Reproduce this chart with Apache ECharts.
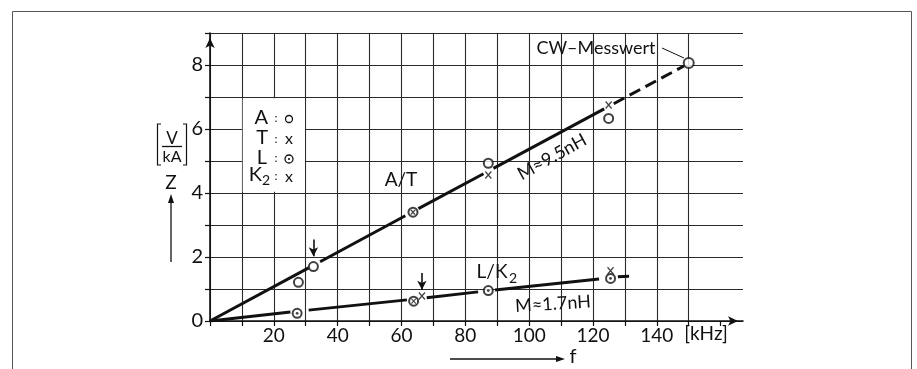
<!DOCTYPE html>
<html>
<head>
<meta charset="utf-8">
<script src="https://cdn.jsdelivr.net/npm/echarts@6/dist/echarts.min.js"></script>
<style>
  html, body { margin: 0; padding: 0; background: #fff; }
  #chart { width: 917px; height: 369px; }
</style>
</head>
<body>
<div id="chart"></div>
<script>
// frequency f in kHz, impedance Z in V/kA
const circlePts = [[27.7, 1.21], [32.4, 1.70], [87.2, 4.93], [124.9, 6.33]];   // A : o
const crossPts = [[87.2, 4.56], [124.9, 6.75], [66.4, 0.78], [125.5, 1.57]];    // T, K2 : x
const dotCirclePts = [[27.3, 0.24], [87.2, 0.95], [125.5, 1.33]];                // L : ⊙
const crossCirclePts = [[63.6, 3.40], [63.8, 0.62]];                             // o and x together
const cwPoint = [[150, 8.06]];                                                   // CW-Messwert

// fitted lines, drawn in pieces with gaps round the markers
const lineAT = [[0, 0, 30.9, 1.66], [34.5, 1.85, 61.2, 3.29], [65.3, 3.51, 85.7, 4.60], [88.8, 4.77, 123.5, 6.63]];
const dashAT = [[126.5, 6.79, 148.5, 7.97]];
const lineLK = [[0, 0, 25.2, 0.28], [30.9, 0.34, 61.7, 0.66], [67.9, 0.73, 84.0, 0.91], [89.3, 0.97, 121.9, 1.31]];
const dashLK = [[127.8, 1.38, 131.3, 1.40]];

// little arrows pointing at two measurements: f, Z from, Z to
const pointerArrows = [[32.4, 2.55, 2.02], [66.4, 1.50, 0.98]];

const xTickValues = [0, 10, 20, 30, 40, 50, 60, 70, 80, 90, 100, 110, 120, 130, 140, 150, 160];
const xLabelValues = [20, 40, 60, 80, 100, 120, 140];
const yLabelValues = [0, 2, 4, 6, 8];

const FONT = "Lato";
const INK = "#111";

const chart = echarts.init(document.getElementById("chart"));

function segmentSeries(segs, dashed) {
  return segs.map((s) => ({
    type: "line",
    data: [[s[0], s[1]], [s[2], s[3]]],
    symbol: "none",
    silent: true,
    z: 3,
    lineStyle: { color: INK, width: 3, type: dashed ? [12, 6] : "solid", cap: "butt" },
  }));
}

const crossPath = "path://M0,0L10,12M10,0L0,12";

const series = [
  // white box behind the symbol key
  {
    type: "scatter",
    data: [],
    z: 2,
    markArea: {
      silent: true,
      itemStyle: { color: "#fff", opacity: 1 },
      data: [[{ coord: [10.25, 4.04] }, { coord: [29.75, 6.96] }]],
    },
  },
  ...segmentSeries(lineAT, false),
  ...segmentSeries(dashAT, true),
  ...segmentSeries(lineLK, false),
  ...segmentSeries(dashLK, true),
  {
    type: "line",
    data: [],
    markLine: {
      silent: true,
      symbol: ["none", "arrow"],
      symbolSize: [7, 9],
      label: { show: false },
      lineStyle: { color: INK, width: 1.6, type: "solid" },
      data: pointerArrows.map((a) => [{ coord: [a[0], a[1]] }, { coord: [a[0], a[2]] }]),
    },
  },
  {
    type: "scatter",
    data: circlePts.concat(dotCirclePts, crossCirclePts),
    symbol: "emptyCircle",
    symbolSize: 9,
    z: 4,
    itemStyle: { color: INK, borderColor: INK, borderWidth: 1.6 },
  },
  {
    type: "scatter",
    data: dotCirclePts,
    symbol: "circle",
    symbolSize: 2.8,
    z: 5,
    itemStyle: { color: INK },
  },
  {
    type: "scatter",
    data: crossCirclePts,
    symbol: crossPath,
    symbolSize: [4.5, 5],
    z: 5,
    itemStyle: { color: "none", borderColor: INK, borderWidth: 1.2 },
  },
  {
    type: "scatter",
    data: crossPts,
    symbol: crossPath,
    symbolSize: [6, 7],
    z: 5,
    itemStyle: { color: "none", borderColor: INK, borderWidth: 1.4 },
  },
  {
    type: "scatter",
    data: cwPoint,
    symbol: "emptyCircle",
    symbolSize: 10,
    z: 5,
    itemStyle: { color: INK, borderColor: INK, borderWidth: 2.2 },
  },
];

function txt(x, y, text, size, extra) {
  return Object.assign({
    type: "text",
    x: x,
    y: y,
    style: { text: text, fill: INK, font: size + "px " + FONT, align: "center", verticalAlign: "middle" },
    z: 100,
  }, extra || {});
}

function rtxt(x, y, text, size) {
  return {
    type: "text",
    x: x,
    y: y,
    style: { text: text, fill: INK, font: size + "px " + FONT, align: "right", verticalAlign: "middle" },
    z: 100,
  };
}

function ln(x1, y1, x2, y2, w) {
  return { type: "line", shape: { x1, y1, x2, y2 }, style: { stroke: INK, lineWidth: w || 1.2 }, z: 100 };
}

const deg = Math.PI / 180;

const graphics = [
  // outer frame
  { type: "rect", shape: { x: 12.5, y: 11.5, width: 899, height: 400 }, style: { fill: "none", stroke: "#555", lineWidth: 1 }, z: 100 },

  // y-axis title: [V/kA], Z and arrow
  { type: "polyline", shape: { points: [[161, 124], [157.5, 124], [157.5, 165], [161, 165]] }, style: { stroke: INK, lineWidth: 1.2, fill: "none" }, z: 100 },
  { type: "polyline", shape: { points: [[183, 124], [186.5, 124], [186.5, 165], [183, 165]] }, style: { stroke: INK, lineWidth: 1.2, fill: "none" }, z: 100 },
  txt(172, 139, "V", 17),
  ln(162, 146.5, 182, 146.5, 1.3),
  txt(172, 157, "kA", 16),
  txt(171, 183, "Z", 19),
  ln(171, 262, 171, 200, 1.3),
  { type: "polygon", shape: { points: [[171, 194], [168, 203], [174, 203]] }, style: { fill: INK }, z: 100 },

  // x-axis unit and f arrow
  txt(706, 334, "[kHz]", 19),
  ln(450, 359, 557, 359, 1.3),
  { type: "polygon", shape: { points: [[565, 359], [556, 356], [556, 362]] }, style: { fill: INK }, z: 100 },
  txt(573, 357, "f", 20),

  // symbol key
  rtxt(268, 118, "A", 20),
  txt(276, 118, ":", 12),
  { type: "circle", shape: { cx: 289, cy: 119, r: 3.5 }, style: { fill: "#fff", stroke: INK, lineWidth: 1.3 }, z: 100 },
  rtxt(268, 138, "T", 20),
  txt(276, 139, ":", 12),
  txt(289, 139, "x", 16),
  rtxt(267, 158, "L", 20),
  txt(276, 158, ":", 12),
  { type: "circle", shape: { cx: 289, cy: 159, r: 4 }, style: { fill: "#fff", stroke: INK, lineWidth: 1.3 }, z: 100 },
  { type: "circle", shape: { cx: 289, cy: 159, r: 1.1 }, style: { fill: INK }, z: 101 },
  rtxt(262, 175, "K", 20),
  txt(266, 180, "2", 14),
  txt(276, 176, ":", 12),
  txt(289, 177, "x", 16),

  // curve labels
  txt(401, 180, "A/T", 19),
  txt(552, 157, "M\u22489.5nH", 18, { rotation: 29 * deg }),
  txt(492, 272, "L/K", 19),
  txt(513, 278, "2", 14),
  txt(553, 304, "M\u22481.7nH", 18, { rotation: 3.5 * deg }),
  txt(596, 48, "CW\u2013Messwert", 18),
  ln(662, 48, 684, 58, 1),
];

const options = {
  animation: false,
  backgroundColor: "#fff",
  grid: { left: 210, right: 174, top: 33, bottom: 48, containLabel: false },
  xAxis: {
    type: "value",
    min: 0,
    max: 167,
    interval: 10,
    axisLine: {
      show: true,
      onZero: false,
      symbol: ["none", "arrow"],
      symbolSize: [7, 10],
      symbolOffset: [0, -5],
      lineStyle: { color: INK, width: 1.6 },
    },
    axisTick: { show: true, length: 5, customValues: xTickValues, lineStyle: { color: INK, width: 1.2 } },
    axisLabel: { customValues: xLabelValues, color: INK, fontFamily: FONT, fontSize: 19, margin: 5 },
    splitLine: { show: true, showMaxLine: false, lineStyle: { color: "#2a2a2a", width: 1.1 } },
  },
  yAxis: {
    type: "value",
    min: 0,
    max: 9,
    interval: 1,
    axisLine: {
      show: true,
      onZero: false,
      symbol: ["none", "arrow"],
      symbolSize: [7, 10],
      symbolOffset: [0, -5],
      lineStyle: { color: INK, width: 1.6 },
    },
    axisTick: { show: true, length: 5, lineStyle: { color: INK, width: 1.2 } },
    axisLabel: { customValues: yLabelValues, color: INK, fontFamily: FONT, fontSize: 20, margin: 7 },
    splitLine: { show: true, lineStyle: { color: "#2a2a2a", width: 1.1 } },
  },
  series: series,
  graphic: graphics,
};

chart.setOption(options);
</script>
</body>
</html>
